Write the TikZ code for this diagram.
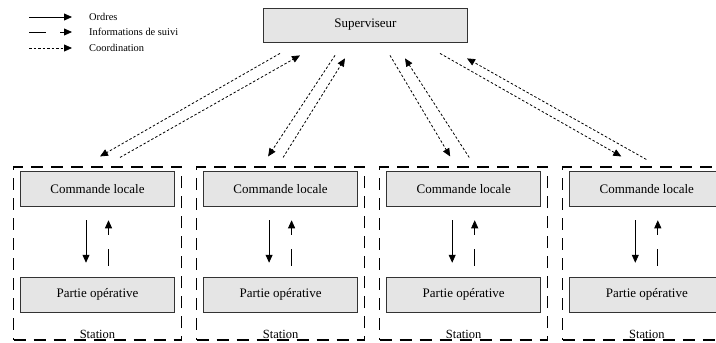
\documentclass[tikz,border=0pt]{standalone}
\usepackage{fontspec}
\setmainfont{Liberation Serif}
\usetikzlibrary{positioning,arrows.meta}
\definecolor{boxgray}{gray}{0.9}
\definecolor{boxline}{gray}{0.2}

\begin{document}
\begin{tikzpicture}[x=1pt,y=-1pt,>={Triangle[length=8pt,width=7pt]},
  bloc/.style={draw=boxline,line width=0.8pt,fill=boxgray,minimum width=154pt,
               minimum height=35pt,inner sep=0pt,font=\fontsize{13}{15}\selectfont},
  station/.style={draw,line width=1.1pt,dash pattern=on 12pt off 8pt,
                  minimum width=168pt,minimum height=173pt,inner sep=0pt},
  stlabel/.style={inner sep=1pt,font=\fontsize{12.5}{14}\selectfont},
  legende/.style={anchor=west,inner sep=0pt,font=\fontsize{10.4}{12}\selectfont},
  ordre/.style={->,line width=0.8pt},
  suivi/.style={->,line width=0.8pt,dash pattern=on 17pt off 14pt},
  coordfl/.style={->,line width=0.8pt,dash pattern=on 2.5pt off 2pt}]
\useasboundingbox (0,0) rectangle (716,343);
\clip (0,0) rectangle (716,343);
% legende
\node[legende] (lg1) at (89,17) {Ordres};
\node[legende] (lg2) at (89,32) {Informations de suivi};
\node[legende] (lg3) at (89,48) {Coordination};
\draw[ordre] ([xshift=-60pt]lg1.west) -- ([xshift=-17pt]lg1.west);
\draw[suivi] ([xshift=-60pt]lg2.west) -- ([xshift=-17pt]lg2.west);
\draw[coordfl] ([xshift=-60pt]lg3.west) -- ([xshift=-17pt]lg3.west);
% superviseur
\node[bloc,minimum width=204pt,minimum height=34pt] (sup) at (365.5,25) {Superviseur};
% stations
\node[station] (st1) at (97.5,253.5) {};
\node[station,right=14pt of st1] (st2) {};
\node[station,right=14pt of st2] (st3) {};
\node[station,right=14pt of st3] (st4) {};
\node[bloc,below=5pt of st1.north] (cl1) {Commande locale};
\node[bloc,below=5pt of st2.north] (cl2) {Commande locale};
\node[bloc,below=5pt of st3.north] (cl3) {Commande locale};
\node[bloc,below=5pt of st4.north] (cl4) {Commande locale};
\node[bloc,above=28pt of st1.south] (po1) {Partie opérative};
\node[bloc,above=28pt of st2.south] (po2) {Partie opérative};
\node[bloc,above=28pt of st3.south] (po3) {Partie opérative};
\node[bloc,above=28pt of st4.south] (po4) {Partie opérative};
\node[stlabel,above=1pt of st1.south] (lb1) {Station};
\node[stlabel,above=1pt of st2.south] (lb2) {Station};
\node[stlabel,above=1pt of st3.south] (lb3) {Station};
\node[stlabel,above=1pt of st4.south] (lb4) {Station};
% ordres et suivi
\draw[ordre] ([xshift=-11.5pt,yshift=-13pt]cl1.south) -- ([xshift=-11.5pt,yshift=14pt]po1.north);
\draw[suivi] ([xshift=11pt,yshift=11pt]po1.north) -- ([xshift=11pt,yshift=-13pt]cl1.south);
\draw[ordre] ([xshift=-11.5pt,yshift=-13pt]cl2.south) -- ([xshift=-11.5pt,yshift=14pt]po2.north);
\draw[suivi] ([xshift=11pt,yshift=11pt]po2.north) -- ([xshift=11pt,yshift=-13pt]cl2.south);
\draw[ordre] ([xshift=-11.5pt,yshift=-13pt]cl3.south) -- ([xshift=-11.5pt,yshift=14pt]po3.north);
\draw[suivi] ([xshift=11pt,yshift=11pt]po3.north) -- ([xshift=11pt,yshift=-13pt]cl3.south);
\draw[ordre] ([xshift=-11.5pt,yshift=-13pt]cl4.south) -- ([xshift=-11.5pt,yshift=14pt]po4.north);
\draw[suivi] ([xshift=11pt,yshift=11pt]po4.north) -- ([xshift=11pt,yshift=-13pt]cl4.south);
% coordination
\draw[coordfl] ([shift={(-85.5,11)}]sup.south) -- ([shift={(2.5,-10)}]st1.north);
\draw[coordfl] ([shift={(22.5,-9)}]st1.north) -- ([shift={(-65.5,13)}]sup.south);
\draw[coordfl] ([shift={(-30.5,13)}]sup.south) -- ([shift={(-12.5,-10)}]st2.north);
\draw[coordfl] ([shift={(2.5,-9)}]st2.north) -- ([shift={(-20.5,16)}]sup.south);
\draw[coordfl] ([shift={(24.5,13)}]sup.south) -- ([shift={(-13.5,-10)}]st3.north);
\draw[coordfl] ([shift={(5.5,-9)}]st3.north) -- ([shift={(39.5,16)}]sup.south);
\draw[coordfl] ([shift={(74.5,11)}]sup.south) -- ([shift={(-25.5,-10)}]st4.north);
\draw[coordfl] ([shift={(-0.5,-7)}]st4.north) -- ([shift={(101.5,16)}]sup.south);
\end{tikzpicture}
\end{document}
